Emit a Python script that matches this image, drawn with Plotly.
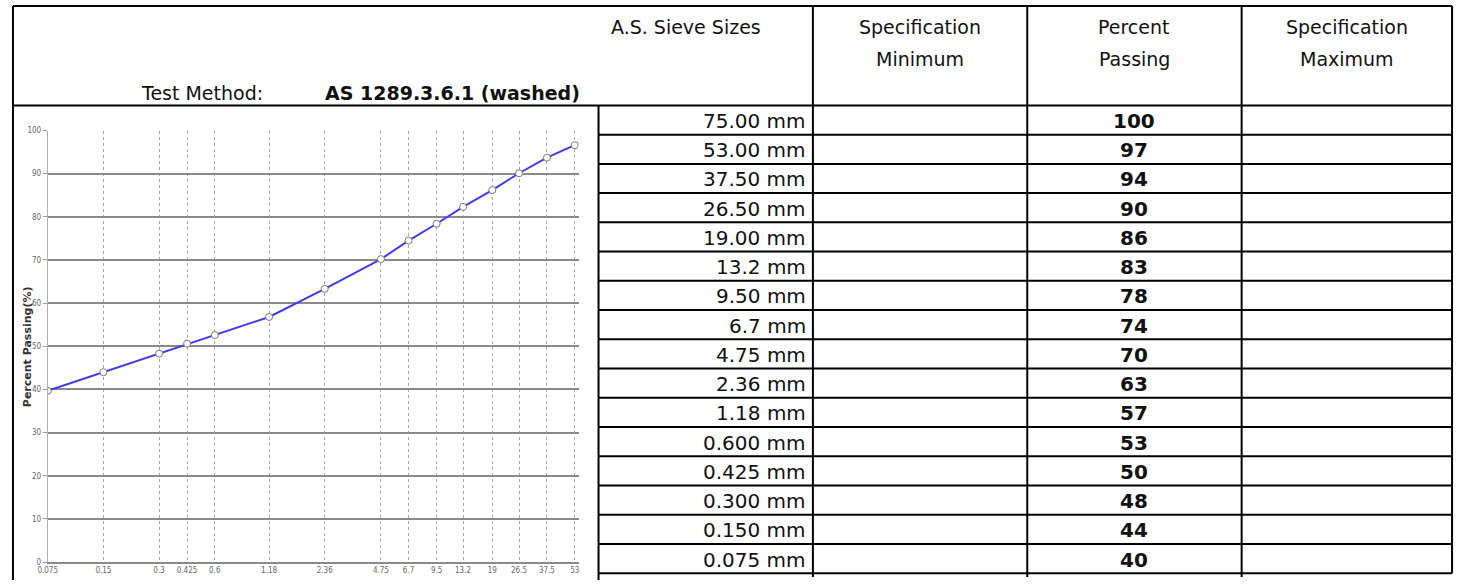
import math
import plotly.graph_objects as go

# ---------------- data ----------------
sieve_labels = ["75.00 mm", "53.00 mm", "37.50 mm", "26.50 mm", "19.00 mm", "13.2 mm",
                "9.50 mm", "6.7 mm", "4.75 mm", "2.36 mm", "1.18 mm", "0.600 mm",
                "0.425 mm", "0.300 mm", "0.150 mm", "0.075 mm"]
percent_passing = [100, 97, 94, 90, 86, 83, 78, 74, 70, 63, 57, 53, 50, 48, 44, 40]
spec_minimum = [""] * 16
spec_maximum = [""] * 16

chart_sizes = [0.075, 0.15, 0.3, 0.425, 0.6, 1.18, 2.36, 4.75, 6.7, 9.5, 13.2, 19, 26.5, 37.5, 53]
chart_passing = [39.7, 44.0, 48.3, 50.6, 52.6, 56.8, 63.3, 70.2, 74.5, 78.4, 82.3, 86.2, 90.1, 93.7, 96.6]
x_tick_text = ["0.075", "0.15", "0.3", "0.425", "0.6", "1.18", "2.36", "4.75", "6.7", "9.5",
               "13.2", "19", "26.5", "37.5", "53"]
y_tick_vals = [0, 10, 20, 30, 40, 50, 60, 70, 80, 90, 100]

header_cols = [("Specification", "Minimum"), ("Percent", "Passing"), ("Specification", "Maximum")]
test_method_label = "Test Method:"
test_method_value = "AS 1289.3.6.1 (washed)"
sieve_header = "A.S. Sieve Sizes"

# ---------------- geometry (pixels) ----------------
W, H = 1458, 585
def px(x):
    return x / W
def py(y):
    return (H - y) / H

plot_left, plot_right = 38, 573
plot_top, plot_bottom = 128.5, 566.8

col_edges = [593, 809, 1025, 1241, 1453]
header_top, header_bottom = 2, 103
row_h = 29.69
n_rows = len(sieve_labels)

TABLE_FONT = "DejaVu Sans, Verdana, sans-serif"
NARROW = "Liberation Sans Narrow, DejaVu Sans Condensed, Arial Narrow, sans-serif"

fig = go.Figure()

# ---------------- chart ----------------
fig.add_trace(go.Scatter(
    x=chart_sizes, y=chart_passing, mode="lines+markers",
    line=dict(color="#3d3df7", width=2),
    marker=dict(symbol="circle", size=7, color="white", line=dict(color="#7a7a7a", width=1)),
    xaxis="x", yaxis="y", showlegend=False, hoverinfo="x+y",
))

x_lo = math.log10(chart_sizes[0])
x_hi = math.log10(chart_sizes[-1]) + (plot_right - 569) / 186.4

fig.update_layout(
    xaxis=dict(
        type="log", range=[x_lo, x_hi], domain=[px(plot_left), px(plot_right)],
        tickvals=chart_sizes, ticktext=x_tick_text, tickangle=0,
        tickfont=dict(family=NARROW, size=8, color="#666666"),
        showgrid=True, gridcolor="#a8a8a8", gridwidth=1, griddash="dot",
        showline=True, linecolor="#8a8a8a", linewidth=1.5,
        ticks="", zeroline=False, anchor="y", fixedrange=True,
    ),
    yaxis=dict(
        range=[0, 100], domain=[py(plot_bottom), py(plot_top)],
        tickvals=y_tick_vals, ticktext=[str(v) for v in y_tick_vals],
        tickfont=dict(family=NARROW, size=8, color="#666666"),
        showgrid=True, gridcolor="#8a8a8a", gridwidth=1.5,
        showline=True, linecolor="#b0b0b0", linewidth=1, griddash="solid",
        ticks="outside", ticklen=4, tickcolor="#999999",
        zeroline=False, anchor="x", fixedrange=True,
    ),
    # pixel-space axes for the table layout
    xaxis2=dict(range=[0, W], domain=[0, 1], visible=False, anchor="y2", fixedrange=True),
    yaxis2=dict(range=[H, 0], domain=[0, 1], visible=False, anchor="x2", fixedrange=True),
)

annotations = []
shapes = []

# y axis title
annotations.append(dict(
    x=17, y=(plot_top + plot_bottom) / 2, xref="x2", yref="y2",
    text="Percent Passing(%)", textangle=-90, showarrow=False,
    font=dict(family="DejaVu Sans, sans-serif", size=11, color="#333333", weight="bold"),
))

# ---------------- table lines ----------------
def hline(y, x0, x1):
    shapes.append(dict(type="line", xref="x2", yref="y2", x0=x0, x1=x1, y0=y, y1=y,
                       line=dict(color="black", width=2)))

def vline(x, y0, y1):
    shapes.append(dict(type="line", xref="x2", yref="y2", x0=x, x1=x, y0=y0, y1=y1,
                       line=dict(color="black", width=2)))

table_bottom = header_bottom + n_rows * row_h
hline(header_top, 3, col_edges[-1])
hline(header_bottom, 3, col_edges[-1])
vline(3, header_top, H)
vline(col_edges[0], header_bottom, H)
for xe in col_edges[1:-1]:
    vline(xe, header_top, table_bottom + 4)
vline(col_edges[-1], header_top, table_bottom)
for k in range(1, n_rows + 1):
    hline(header_bottom + k * row_h, col_edges[0], col_edges[-1])

# ---------------- table text ----------------
annotations.append(dict(x=681, y=23, xref="x2", yref="y2", text=sieve_header, showarrow=False,
                        font=dict(family=TABLE_FONT, size=19, color="#111111")))
for i, (l1, l2) in enumerate(header_cols):
    cx = (col_edges[i + 1] + col_edges[i + 2]) / 2
    annotations.append(dict(x=cx, y=23, xref="x2", yref="y2", text=l1, showarrow=False,
                            font=dict(family=TABLE_FONT, size=19, color="#111111")))
    annotations.append(dict(x=cx, y=56, xref="x2", yref="y2", text=l2, showarrow=False,
                            font=dict(family=TABLE_FONT, size=19, color="#111111")))

annotations.append(dict(x=193, y=90, xref="x2", yref="y2", text=test_method_label, showarrow=False,
                        font=dict(family=TABLE_FONT, size=19, color="#111111")))
annotations.append(dict(x=315, y=90, xref="x2", yref="y2", text="<b>" + test_method_value + "</b>",
                        xanchor="left", showarrow=False,
                        font=dict(family=TABLE_FONT, size=19, color="#111111")))

for i in range(n_rows):
    cy = header_bottom + (i + 0.5) * row_h + 1
    annotations.append(dict(x=col_edges[1] - 5, y=cy, xref="x2", yref="y2", text=sieve_labels[i],
                            xanchor="right", showarrow=False,
                            font=dict(family=TABLE_FONT, size=20, color="#111111")))
    annotations.append(dict(x=(col_edges[2] + col_edges[3]) / 2, y=cy, xref="x2", yref="y2",
                            text="<b>" + str(percent_passing[i]) + "</b>", showarrow=False,
                            font=dict(family=TABLE_FONT, size=20, color="#111111")))
    if spec_minimum[i]:
        annotations.append(dict(x=(col_edges[1] + col_edges[2]) / 2, y=cy, xref="x2", yref="y2",
                                text=spec_minimum[i], showarrow=False,
                                font=dict(family=TABLE_FONT, size=20, color="#111111")))
    if spec_maximum[i]:
        annotations.append(dict(x=(col_edges[3] + col_edges[4]) / 2, y=cy, xref="x2", yref="y2",
                                text=spec_maximum[i], showarrow=False,
                                font=dict(family=TABLE_FONT, size=20, color="#111111")))

fig.update_layout(
    width=W, height=H, margin=dict(l=0, r=0, t=0, b=0),
    paper_bgcolor="white", plot_bgcolor="rgba(0,0,0,0)",
    annotations=annotations, shapes=shapes, showlegend=False,
)

fig.write_html(
    "out.html",
    config={"displayModeBar": False},
    post_script="document.documentElement.style.margin='0';document.body.style.margin='0';"
                "document.body.style.overflow='hidden';document.documentElement.style.overflow='hidden';",
)
